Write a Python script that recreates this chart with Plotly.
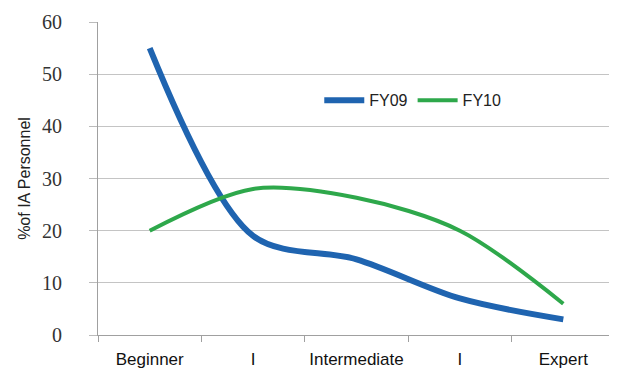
import plotly.graph_objects as go

# skill levels along the x axis
levels = ["Beginner", "I", "Intermediate", "I", "Expert"]
positions = [0, 1, 2, 3, 4]

# % of IA personnel per level
fy09 = [55, 19, 14.5, 7, 3]
fy10 = [20, 28, 26.3, 20, 6]

fig = go.Figure([
    go.Scatter(x=positions, y=fy09, name="FY09", mode="lines",
               line=dict(color="#1F64B0", width=6, shape="spline", smoothing=0.9)),
    go.Scatter(x=positions, y=fy10, name="FY10", mode="lines",
               line=dict(color="#2EA84B", width=4, shape="spline", smoothing=0.9)),
])

# page body has an 8px margin, so the margins are shifted by that much
fig.update_layout(
    width=617, height=372,
    margin=dict(l=90, r=10, t=14, b=45),
    paper_bgcolor="white", plot_bgcolor="white",
    font=dict(family="Liberation Sans, Arial", color="#222222"),
    legend=dict(orientation="h", x=0.428, y=0.75, xanchor="left", yanchor="middle",
                font=dict(size=16, family="Liberation Sans, Arial"),
                bgcolor="rgba(0,0,0,0)", itemwidth=40, tracegroupgap=0),
    showlegend=True,
)

fig.update_xaxes(
    range=[-0.5, 4.5], tickvals=positions, ticktext=levels, ticks="",
    tickfont=dict(size=17, family="Liberation Sans, Arial", color="#111111"),
    showgrid=False, showline=True, linecolor="#A0A0A0", linewidth=1,
    ticklabelstandoff=9, zeroline=False, automargin=False,
    minor=dict(tick0=-0.5, dtick=1, ticks="outside", ticklen=6, tickcolor="#A0A0A0"),
)

fig.update_yaxes(
    range=[0, 60], dtick=10, ticks="outside", ticklen=8, tickcolor="#BBBBBB",
    tickfont=dict(size=20, family="Liberation Serif, Times New Roman", color="#333333"),
    showgrid=True, gridcolor="#C4C4C4", gridwidth=1,
    showline=True, linecolor="#A0A0A0", linewidth=1, zeroline=False,
    ticklabelstandoff=23, automargin=False,
    title=dict(text="%of IA Personnel", standoff=7,
               font=dict(size=16, family="Liberation Sans, Arial", color="#222222")),
)

fig.write_html("out.html")
